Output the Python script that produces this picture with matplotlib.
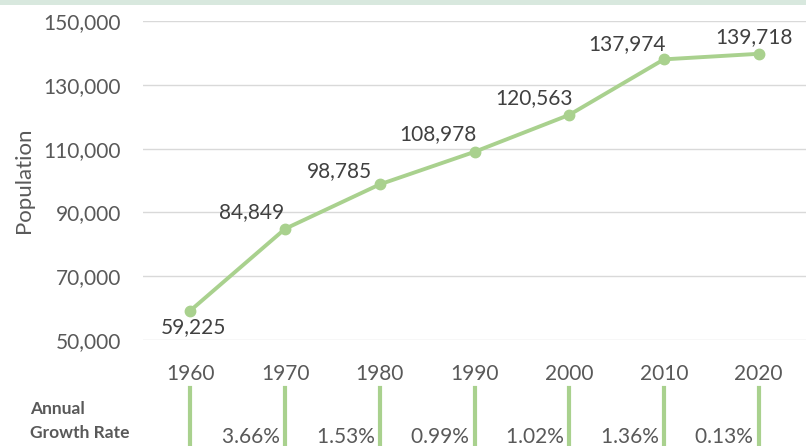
import matplotlib
matplotlib.use("Agg")
import matplotlib.pyplot as plt
from matplotlib.transforms import blended_transform_factory
from matplotlib.patches import Rectangle
from matplotlib.lines import Line2D

# data
years = ["1960", "1970", "1980", "1990", "2000", "2010", "2020"]
population = [59225, 84849, 98785, 108978, 120563, 137974, 139718]
growth_rates = ["3.66%", "1.53%", "0.99%", "1.02%", "1.36%", "0.13%"]
y_ticks = [50000, 70000, 90000, 110000, 130000, 150000]

# label offsets in pixels (dx, dy) from each point
label_offsets = [(3, -17), (-34, 17), (-40, 13), (-37, 18), (-35, 17), (-37, 15), (-5, 17)]

plt.rcParams["font.family"] = ["Lato", "DejaVu Sans"]
W, H = 806, 446
fig = plt.figure(figsize=(W / 100, H / 100), dpi=100)
ax = fig.add_axes([143 / W, 1 - 340 / H, 1 - 143 / W, (340 - 21) / H])

line_color = "#a9d18e"
x = list(range(len(years)))
ax.plot(x, population, color=line_color, lw=2.8, marker="o", ms=7.5, zorder=3)

for i, (v, (dx, dy)) in enumerate(zip(population, label_offsets)):
    ax.annotate(f"{v:,}", (i, v), xytext=(dx, dy), textcoords="offset pixels",
                ha="center", va="center", fontsize=15, color="#404040")

ax.set_xlim(-0.5, len(years) - 0.5)
ax.set_ylim(50000, 150000)
ax.set_yticks(y_ticks)
ax.set_yticklabels([f"{t:,}" for t in y_ticks])
ax.set_xticks(x)
ax.set_xticklabels(years)
ax.tick_params(axis="both", length=0, labelsize=15, labelcolor="#595959")
ax.tick_params(axis="y", pad=16)
ax.tick_params(axis="x", pad=17)
ax.grid(axis="y", color="#d9d9d9", lw=1)
ax.set_axisbelow(True)
for s in ax.spines.values():
    s.set_visible(False)
ax.set_ylabel("Population", fontsize=16, color="#595959", labelpad=7)

# growth-rate strip
tr = blended_transform_factory(ax.transData, fig.transFigure)
for i in x:
    fig.add_artist(Line2D([i, i], [1 - 388 / H, 0], transform=tr, color=line_color, lw=3))
for i, g in enumerate(growth_rates):
    fig.text(i + 1, 1 - 437 / H, g + " ", transform=tr, ha="right", va="center",
             fontsize=15, color="#595959")
fig.text(30 / W, 1 - 409 / H, "Annual", fontsize=12.5, fontweight="bold", color="#595959", va="center")
fig.text(30 / W, 1 - 433 / H, "Growth Rate", fontsize=12.5, fontweight="bold", color="#595959", va="center")

# top band
fig.add_artist(Rectangle((0, 1 - 5 / H), 1, 5 / H, transform=fig.transFigure,
                         color="#d8e8de", lw=0))

fig.savefig("out.png", dpi=100)
